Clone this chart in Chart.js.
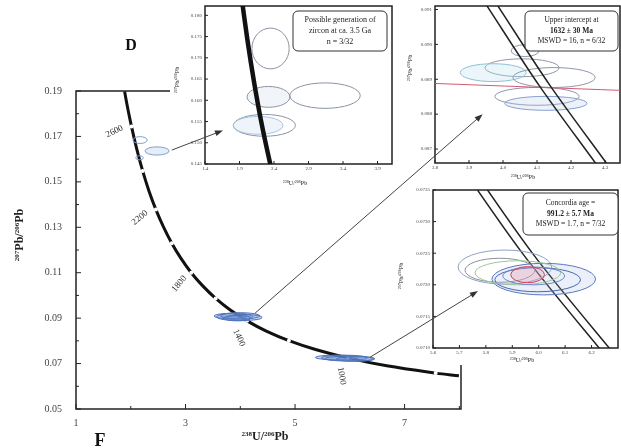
<!DOCTYPE html>
<html>
<head>
<meta charset="utf-8">
<script src="https://cdn.jsdelivr.net/npm/chart.js@4.4.1/dist/chart.umd.min.js"></script>
<style>
  html, body { margin: 0; padding: 0; background: #fff; }
  #wrap { position: relative; width: 621px; height: 448px; overflow: hidden; }
  #wrap canvas { position: absolute; left: 0; top: 0; }
  .inset { position: absolute; background: #fff; }
</style>
</head>
<body>
<div id="wrap">
  <canvas id="main" width="621" height="448"></canvas>
  <div class="inset" id="box1" style="left:170px;top:0;width:229px;height:190px"><canvas id="in1" width="229" height="190"></canvas></div>
  <div class="inset" id="box2" style="left:398px;top:0;width:223px;height:184px"><canvas id="in2" width="223" height="184"></canvas></div>
  <div class="inset" id="box3" style="left:398px;top:184px;width:223px;height:181px"><canvas id="in3" width="223" height="181"></canvas></div>
  <canvas id="overlay" width="621" height="448" style="z-index:5;pointer-events:none"></canvas>
</div>
<script>
// concordia (Tera-Wasserburg), ages in Ma
const concordiaAge = [760, 800, 900, 1000, 1100, 1200, 1300, 1400, 1500, 1600, 1700, 1800, 1900, 2000, 2100, 2200, 2300, 2400, 2500, 2600, 2700, 2740];
const concordiaX = [7.992, 7.568, 6.674, 5.959, 5.374, 4.887, 4.475, 4.123, 3.817, 3.550, 3.314, 3.104, 2.917, 2.749, 2.597, 2.459, 2.332, 2.217, 2.111, 2.013, 1.922, 1.888];
const concordiaY = [0.0646, 0.0658, 0.0690, 0.0725, 0.0762, 0.0801, 0.0843, 0.0888, 0.0936, 0.0987, 0.1042, 0.1100, 0.1163, 0.1230, 0.1302, 0.1378, 0.1460, 0.1548, 0.1643, 0.1744, 0.1852, 0.1898];
const labelAges = [2600, 2200, 1800, 1400, 1000];

const xTicks = [1, 3, 5, 7];
const xMinor = [2, 4, 6, 8];
const yTicks = [0.05, 0.07, 0.09, 0.11, 0.13, 0.15, 0.17, 0.19];
const yMinor = [0.06, 0.08, 0.10, 0.12, 0.14, 0.16, 0.18];

// axis titles: [text, superscript?]
const titleX = [['238', true], ['U/', false], ['206', true], ['Pb', false]];
const titleY = [['207', true], ['Pb/', false], ['206', true], ['Pb', false]];

// spot ellipses in the main plot
const mainEllX = [2.17, 2.48, 2.16, 3.82, 3.90, 4.00, 4.08, 3.95, 5.75, 5.90, 6.00, 6.10];
const mainEllY = [0.1684, 0.1636, 0.1606, 0.0909, 0.0906, 0.0910, 0.0903, 0.0900, 0.0727, 0.0725, 0.0722, 0.0720];
const mainEllRx = [0.13, 0.22, 0.07, 0.30, 0.33, 0.36, 0.32, 0.25, 0.38, 0.42, 0.45, 0.35];
const mainEllRy = [0.0015, 0.0018, 0.0009, 0.0012, 0.0016, 0.0014, 0.0013, 0.0012, 0.0010, 0.0012, 0.0011, 0.0010];

// inset 1 (old grains)
const in1TicksX = [1.4, 1.9, 2.4, 2.9, 3.4, 3.9];
const in1TicksY = [0.145, 0.150, 0.155, 0.160, 0.165, 0.170, 0.175, 0.180];
const in1ConcX = [2.394, 2.332, 2.217, 2.111, 2.013, 1.922];
const in1ConcY = [0.1419, 0.1460, 0.1548, 0.1643, 0.1744, 0.1852];
const in1EllX = [2.35, 2.32, 3.14, 2.26, 2.17];
const in1EllY = [0.1722, 0.1608, 0.1611, 0.1541, 0.1541];
const in1EllRx = [0.27, 0.31, 0.51, 0.45, 0.36];
const in1EllRy = [0.0048, 0.00245, 0.0030, 0.00257, 0.0021];

// inset 2 (upper intercept)
const in2TicksX = [3.8, 3.9, 4.0, 4.1, 4.2, 4.3];
const in2TicksY = [0.087, 0.088, 0.089, 0.090, 0.091];
const in2ConcY = [0.08653, 0.08881, 0.09116];
const in2BandLoX = [4.277, 4.107, 3.949];
const in2BandHiX = [4.309, 4.139, 3.981];
const in2LineX = [3.80, 4.35];
const in2LineY = [0.08888, 0.08868];
const in2EllX = [4.056, 3.971, 4.150, 4.100, 4.126, 4.065];
const in2EllY = [0.08933, 0.08919, 0.08905, 0.08851, 0.08831, 0.08982];
const in2EllRx = [0.109, 0.097, 0.121, 0.124, 0.121, 0.041];
const in2EllRy = [0.000256, 0.000256, 0.000285, 0.000256, 0.000200, 0.000170];

// inset 3 (concordia age)
const in3TicksX = [5.6, 5.7, 5.8, 5.9, 6.0, 6.1, 6.2];
const in3TicksY = [0.0710, 0.0715, 0.0720, 0.0725, 0.0730, 0.0735];
const in3ConcY = [0.070744, 0.07249, 0.074313];
const in3BandLoX = [6.279, 5.940, 5.634];
const in3BandHiX = [6.317, 5.978, 5.672];
const in3EllX = [5.872, 5.853, 6.019, 5.996, 5.921, 5.981, 5.958];
const in3EllY = [0.07228, 0.07223, 0.07209, 0.07208, 0.07219, 0.07214, 0.07216];
const in3EllRx = [0.177, 0.132, 0.196, 0.162, 0.162, 0.117, 0.064];
const in3EllRy = [0.00027, 0.00019, 0.00025, 0.00019, 0.00019, 0.00014, 0.000127];

// arrows: from spot groups (main data) to the insets (inset data)
const arrowFromX = [2.75, 4.27, 6.37];
const arrowFromY = [0.1640, 0.0922, 0.0728];
const arrowToX = [1.66, 3.94, 5.77];
const arrowToY = [0.1529, 0.0880, 0.0719];

const serif = "'Liberation Serif', 'Times New Roman', serif";

// draws text with raised small parts, centred on (0,0) of the current transform
function richText(ctx, parts, size, weight) {
  const fontOf = sup => weight + ' ' + (sup ? Math.round(size * 0.62) : size) + 'px ' + serif;
  let total = 0;
  parts.forEach(([t, sup]) => { ctx.font = fontOf(sup); total += ctx.measureText(t).width; });
  let xx = -total / 2;
  ctx.textAlign = 'left';
  ctx.textBaseline = 'alphabetic';
  parts.forEach(([t, sup]) => {
    ctx.font = fontOf(sup);
    ctx.fillText(t, xx, size * 0.35 - (sup ? size * 0.38 : 0));
    xx += ctx.measureText(t).width;
  });
}

function ellipses(xs, ys, rxs, rys, strokes, fills, hook) {
  const draw = chart => {
    const {ctx, chartArea: a, scales: {x, y}} = chart;
    ctx.save();
    ctx.beginPath();
    ctx.rect(a.left, a.top, a.right - a.left, a.bottom - a.top);
    ctx.clip();
    xs.forEach((cx, i) => {
      const px = x.getPixelForValue(cx), py = y.getPixelForValue(ys[i]);
      const rx = Math.abs(x.getPixelForValue(cx + rxs[i]) - px);
      const ry = Math.abs(y.getPixelForValue(ys[i] + rys[i]) - py);
      ctx.beginPath();
      ctx.ellipse(px, py, rx, ry, 0, 0, Math.PI * 2);
      if (fills[i]) { ctx.fillStyle = fills[i]; ctx.fill(); }
      ctx.strokeStyle = strokes[i];
      ctx.lineWidth = 1;
      ctx.stroke();
    });
    ctx.restore();
  };
  return hook === 'before' ? {id: 'ell', beforeDatasetsDraw: draw} : {id: 'ell', afterDatasetsDraw: draw};
}

function frame(major, minor, lw, tickLen) {
  return {
    id: 'frame',
    beforeDatasetsDraw(chart) {
      const {ctx, chartArea: a, scales: {x, y}} = chart;
      ctx.save();
      ctx.strokeStyle = '#222';
      ctx.lineWidth = lw;
      ctx.strokeRect(a.left, a.top, a.right - a.left, a.bottom - a.top);
      ctx.lineWidth = 1;
      const tk = (vals, len) => {
        vals[0].forEach(v => {
          const p = x.getPixelForValue(v);
          ctx.beginPath(); ctx.moveTo(p, a.bottom); ctx.lineTo(p, a.bottom - len); ctx.stroke();
        });
        vals[1].forEach(v => {
          const p = y.getPixelForValue(v);
          ctx.beginPath(); ctx.moveTo(a.left, p); ctx.lineTo(a.left + len, p); ctx.stroke();
        });
      };
      tk(major, tickLen);
      if (minor) tk(minor, tickLen * 0.6);
      ctx.restore();
    }
  };
}

function textBox(lines, bold, w, h, dxRight, dyTop, size) {
  return {
    id: 'tbox',
    afterDraw(chart) {
      const {ctx, chartArea: a} = chart;
      const left = a.right - dxRight - w, top = a.top + dyTop;
      ctx.save();
      ctx.fillStyle = '#fff';
      ctx.strokeStyle = '#333';
      ctx.lineWidth = 1;
      ctx.beginPath();
      ctx.roundRect(left, top, w, h, 5);
      ctx.fill();
      ctx.stroke();
      ctx.fillStyle = '#222';
      ctx.textAlign = 'center';
      ctx.textBaseline = 'middle';
      lines.forEach((t, i) => {
        ctx.font = (bold[i] ? 'bold ' : '') + size + 'px ' + serif;
        ctx.fillText(t, left + w / 2, top + h / 2 + (i - 1) * (size + 3));
      });
      ctx.restore();
    }
  };
}

function axisTitles(size, xPos, yPos, weight) {
  return {
    id: 'titles',
    afterDraw(chart) {
      const ctx = chart.ctx;
      ctx.save();
      ctx.fillStyle = '#222';
      ctx.translate(xPos[0], xPos[1]);
      richText(ctx, titleX, size, weight);
      ctx.restore();
      ctx.save();
      ctx.fillStyle = '#222';
      ctx.translate(yPos[0], yPos[1]);
      ctx.rotate(-Math.PI / 2);
      richText(ctx, titleY, size, weight);
      ctx.restore();
    }
  };
}

function linearAxis(min, max, ticks, dec, fit, size, pad, fitProp) {
  return {
    type: 'linear', min, max,
    grid: {display: false, drawTicks: false},
    border: {display: false},
    afterBuildTicks: s => { s.ticks = ticks.map(v => ({value: v})); },
    afterFit: s => { s[fitProp] = fit; },
    ticks: {font: {family: serif, size}, color: '#444', padding: pad, maxRotation: 0, autoSkip: false,
            callback: v => Number(v).toFixed(dec)}
  };
}

// ---------- main Tera-Wasserburg plot ----------
const ageLabelDx = [-17, -16, -12, -8, -6];
const ageLabelDy = [5, 8, 11, 17, 18];
const ageLabelRot = [-25, -40, -50, 65, 80];

const ageLabels = {
  id: 'ageLabels',
  afterDatasetsDraw(chart) {
    const {ctx, scales: {x, y}} = chart;
    ctx.save();
    ctx.fillStyle = '#333';
    ctx.font = '9px ' + serif;
    ctx.textAlign = 'center';
    ctx.textBaseline = 'middle';
    labelAges.forEach((age, i) => {
      const k = concordiaAge.indexOf(age);
      const px = x.getPixelForValue(concordiaX[k]) + ageLabelDx[i];
      const py = y.getPixelForValue(concordiaY[k]) + ageLabelDy[i];
      ctx.save();
      ctx.translate(px, py);
      ctx.rotate(ageLabelRot[i] * Math.PI / 180);
      ctx.fillText(String(age), 0, 0);
      ctx.restore();
    });
    ctx.restore();
  }
};

const panelLetters = {
  id: 'letters',
  afterDraw(chart) {
    const ctx = chart.ctx;
    ctx.save();
    ctx.fillStyle = '#111';
    ctx.font = 'bold 16px ' + serif;
    ctx.textAlign = 'center';
    ctx.textBaseline = 'middle';
    ctx.fillText('D', 131, 46);
    ctx.font = 'bold 18px ' + serif;
    ctx.fillText('F', 100, 441);
    ctx.restore();
  }
};

const mainChart = new Chart(document.getElementById('main'), {
  type: 'scatter',
  data: {
    datasets: [{
      data: concordiaAge.map((a, i) => ({x: concordiaX[i], y: concordiaY[i], age: a})),
      showLine: true,
      borderColor: '#111',
      borderWidth: 3,
      tension: 0.35,
      pointRadius: c => (c.raw && c.raw.age % 200 === 0) ? 2 : 0,
      pointBackgroundColor: '#fff',
      pointBorderWidth: 0
    }]
  },
  options: {
    responsive: false, animation: false, devicePixelRatio: 1,
    layout: {padding: {left: 0, top: 91, right: 160, bottom: 0}},
    plugins: {legend: {display: false}, tooltip: {enabled: false}},
    scales: {
      x: linearAxis(1, 8.03, xTicks, 0, 39, 10, 8, 'height'),
      y: linearAxis(0.05, 0.19, yTicks, 2, 76, 10, 14, 'width')
    }
  },
  plugins: [
    frame([xTicks, yTicks], [xMinor, yMinor], 1.5, 5),
    ellipses(mainEllX, mainEllY, mainEllRx, mainEllRy,
      ['#7fa0d0', '#7fa0d0', '#7fa0d0', '#4f72b8', '#4f72b8', '#4f72b8', '#4f72b8', '#4f72b8', '#4f72b8', '#4f72b8', '#4f72b8', '#4f72b8'],
      [null, 'rgba(170,195,230,0.3)', null, 'rgba(100,140,210,0.35)', 'rgba(100,140,210,0.35)', 'rgba(100,140,210,0.35)', 'rgba(100,140,210,0.35)', 'rgba(100,140,210,0.35)', 'rgba(100,140,210,0.35)', 'rgba(100,140,210,0.35)', 'rgba(100,140,210,0.35)', 'rgba(100,140,210,0.35)'],
      'after'),
    ageLabels,
    axisTitles(12, [265, 436], [19, 235], 'bold'),
    panelLetters
  ]
});

// ---------- insets ----------
function lineSet(xs, ys, color, width) {
  return {data: xs.map((v, i) => ({x: v, y: ys[i]})), showLine: true, borderColor: color, borderWidth: width, pointRadius: 0, tension: 0.3};
}

function inset(id, o) {
  return new Chart(document.getElementById(id), {
    type: 'scatter',
    data: {datasets: o.sets},
    options: {
      responsive: false, animation: false, devicePixelRatio: 1,
      layout: {padding: o.pad},
      plugins: {legend: {display: false}, tooltip: {enabled: false}},
      scales: {
        x: linearAxis(o.xr[0], o.xr[1], o.xt, 1, o.xh, 5, 2, 'height'),
        y: linearAxis(o.yr[0], o.yr[1], o.yt, o.ydec, o.yw, 5, 3, 'width')
      }
    },
    plugins: [frame([o.xt, o.yt], null, 1.5, 3)].concat(o.extra)
  });
}

const inChart1 = inset('in1', {
  pad: {left: 0, top: 5, right: 7, bottom: 0}, xh: 26, yw: 35,
  xr: [1.4, 4.11], yr: [0.145, 0.1822], xt: in1TicksX, yt: in1TicksY, ydec: 3,
  sets: [lineSet(in1ConcX, in1ConcY, '#111', 4.5)],
  extra: [
    ellipses(in1EllX, in1EllY, in1EllRx, in1EllRy,
      ['#8a93a3', '#8a93a3', '#8a93a3', '#8a93a3', '#a9c3e3'],
      [null, 'rgba(200,215,235,0.25)', null, null, 'rgba(190,210,240,0.25)'], 'before'),
    textBox(['Possible generation of', 'zircon at ca. 3.5 Ga', 'n = 3/32'], [false, false, false], 94, 40, 5, 5, 8),
    axisTitles(6, [125, 183], [7, 80], 'normal')
  ]
});

const inChart2 = inset('in2', {
  pad: {left: 0, top: 5, right: 1, bottom: 0}, xh: 21, yw: 37,
  xr: [3.8, 4.344], yr: [0.0866, 0.0911], xt: in2TicksX, yt: in2TicksY, ydec: 3,
  sets: [
    lineSet(in2BandLoX, in2ConcY, '#222', 1.5),
    lineSet(in2BandHiX, in2ConcY, '#222', 1.5),
    lineSet(in2LineX, in2LineY, '#d25a72', 1)
  ],
  extra: [
    ellipses(in2EllX, in2EllY, in2EllRx, in2EllRy,
      ['#8e98aa', '#8cc0d6', '#8e98aa', '#8e98aa', '#8aa0d0', '#8e98aa'],
      [null, 'rgba(190,225,240,0.3)', null, null, 'rgba(180,200,235,0.25)', null], 'before'),
    textBox(['Upper intercept at', '1632 ± 30 Ma', 'MSWD = 16, n = 6/32'], [false, true, false], 93, 40, 2, 5, 7.5),
    axisTitles(6, [125, 177], [12, 68], 'normal')
  ]
});

const inChart3 = inset('in3', {
  pad: {left: 0, top: 6, right: 3, bottom: 0}, xh: 17, yw: 35,
  xr: [5.6, 6.3], yr: [0.0710, 0.0735], xt: in3TicksX, yt: in3TicksY, ydec: 4,
  sets: [
    lineSet(in3BandLoX, in3ConcY, '#222', 1.5),
    lineSet(in3BandHiX, in3ConcY, '#222', 1.5)
  ],
  extra: [
    ellipses(in3EllX, in3EllY, in3EllRx, in3EllRy,
      ['#8fa3c4', '#8a8f99', '#5a78c0', '#4a66b0', '#9cc79a', '#6b86c8', '#d0405a'],
      [null, null, 'rgba(150,175,225,0.2)', null, null, null, 'rgba(235,160,180,0.35)'], 'after'),
    textBox(['Concordia age =', '991.2 ± 5.7 Ma', 'MSWD = 1.7, n = 7/32'], [false, true, false], 95, 42, 0, 3, 7.5),
    axisTitles(6, [124, 176], [3, 92], 'normal')
  ]
});

// ---------- arrows on top ----------
(function drawArrows() {
  const ov = document.getElementById('overlay').getContext('2d');
  const targets = [[inChart1, 'box1'], [inChart2, 'box2'], [inChart3, 'box3']];
  ov.strokeStyle = '#444';
  ov.fillStyle = '#333';
  ov.lineWidth = 1;
  arrowFromX.forEach((fx, i) => {
    const x0 = mainChart.scales.x.getPixelForValue(fx);
    const y0 = mainChart.scales.y.getPixelForValue(arrowFromY[i]);
    const [c, boxId] = targets[i];
    const box = document.getElementById(boxId);
    const x1 = c.scales.x.getPixelForValue(arrowToX[i]) + box.offsetLeft;
    const y1 = c.scales.y.getPixelForValue(arrowToY[i]) + box.offsetTop;
    const ang = Math.atan2(y1 - y0, x1 - x0);
    ov.beginPath();
    ov.moveTo(x0, y0);
    ov.lineTo(x1 - 6 * Math.cos(ang), y1 - 6 * Math.sin(ang));
    ov.stroke();
    ov.beginPath();
    ov.moveTo(x1, y1);
    ov.lineTo(x1 - 8 * Math.cos(ang) + 3 * Math.sin(ang), y1 - 8 * Math.sin(ang) - 3 * Math.cos(ang));
    ov.lineTo(x1 - 8 * Math.cos(ang) - 3 * Math.sin(ang), y1 - 8 * Math.sin(ang) + 3 * Math.cos(ang));
    ov.closePath();
    ov.fill();
  });
})();
</script>
</body>
</html>
